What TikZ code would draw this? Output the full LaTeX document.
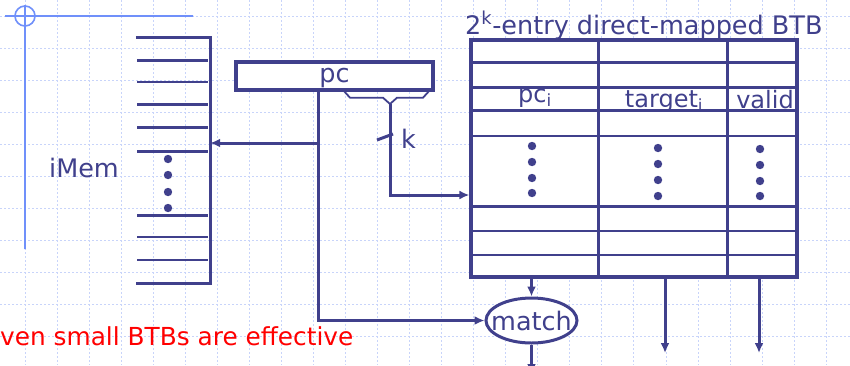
\documentclass[tikz,border=0pt]{standalone}
\usepackage{fontspec}
\setmainfont{DejaVu Sans}
\usetikzlibrary{positioning,arrows.meta,shapes.geometric}
\definecolor{navy}{RGB}{64,64,140}
\definecolor{gridblue}{RGB}{200,212,250}
\definecolor{deco}{RGB}{112,144,250}

\begin{document}
\begin{tikzpicture}[
  x=1pt, y=-1pt,
  lbl/.style={font=\fontsize{25.5}{30}\selectfont, text=navy, inner sep=0pt},
  sublbl/.style={lbl, font=\fontsize{24}{28}\selectfont},
  box/.style={draw=navy, line width=3.2pt, fill=white, inner sep=0pt},
  row/.style={navy, line width=2.6pt},
  wire/.style={navy, line width=3pt},
  arr/.style={wire, -{Latex[length=10pt,width=9pt]}},
  dot/.style={fill=navy},
  gridline/.style={gridblue, line width=1pt, dash pattern=on 2pt off 2pt},
]
  \useasboundingbox (0,0) rectangle (850,365);

  % background
  \foreach \k in {0,...,25} \draw[gridline] (25+32.05*\k,0) -- (25+32.05*\k,365);
  \foreach \k in {0,...,10} \draw[gridline] (0,16+32.05*\k) -- (850,16+32.05*\k);
  \draw[deco, line width=1.6pt] (5,16) -- (193,16) (25,5) -- (25,249) (25,16) circle (10);

  % instruction memory
  \node[minimum width=74pt, minimum height=245pt, inner sep=0pt] (imem) at (173,160.5) {};
  \draw[wire] (imem.north west) -| (imem.south east) -- (imem.south west);
  \foreach \y in {60.5,82,104.5,127.5,151.5,215.5,237,260} \draw[row] (137,\y) -- (208,\y);
  \foreach \y in {159,175,192,208} \fill[dot] (168,\y) circle (4.2);
  \node[lbl, anchor=base west] (imemlbl) at (49,177) {iMem};

  % pc register
  \node[box, minimum width=197pt, minimum height=28pt] (pcreg) at (334.5,76) {};
  \node[lbl, anchor=base] (pclbl) at (334.5,82.5) {pc};
  \coordinate (pcout) at (318,90);
  \coordinate (memin) at (imem.east |- 0,143);
  \draw[navy, line width=1.8pt] (343,90) -- (350,97.7) -- (383,97.7) -- (390,104)
    -- (397,97.7) -- (423,97.7) -- (430,90);
  \coordinate (idx) at (390,104);

  % BTB
  \node[lbl, anchor=base west] (btbtitle) at (465,34) {2\textsuperscript{k}-entry direct-mapped BTB};
  \node[box, minimum width=326pt, minimum height=237pt] (btb) at (634,158.5) {};
  \draw[wire] (598,40) -- (598,277) (727.5,40) -- (727.5,277);
  \foreach \y in {62.7,87.3,110.7,136,206.7,231,255} \draw[row] (471,\y) -- (796,\y);
  \node[sublbl, anchor=base] (pci) at (535,102) {pc\textsubscript{i}};
  \node[sublbl, anchor=base] (tgt) at (664,107) {target\textsubscript{i}};
  \node[sublbl, anchor=base] (valid) at (765,108) {valid};
  \foreach \y in {146,162,178,193} \fill[dot] (532,\y) circle (4.2);
  \foreach \y in {148,164,180,196} \fill[dot] (658,\y) circle (4.2);
  \foreach \y in {149,165,181,196} \fill[dot] (760,\y) circle (4.2);
  \coordinate (btbin) at (btb.west |- 0,195);

  \node[ellipse, draw=navy, line width=3pt, fill=white, minimum width=91pt,
        minimum height=45pt, lbl, inner xsep=-9pt, inner ysep=0pt] (match) at (531.5,320.5) {match};

  % connections
  \draw[arr] (pcout |- memin) -- (memin);
  \draw[arr] (pcout) |- (match.west);
  \draw[arr] (idx) |- (btbin);
  \draw[wire] (377,140) -- (393,134);
  \node[lbl, anchor=base west] (klbl) at (401,148) {k};
  \draw[arr] (match.north |- btb.south) -- (match.north);
  \coordinate (tgtout) at (665,353);
  \coordinate (validout) at (759,353);
  \coordinate (matchout) at (531.5,374);
  \draw[arr] (tgtout |- btb.south) -- (tgtout);
  \draw[arr] (validout |- btb.south) -- (validout);
  \draw[arr] (match.south) -- (matchout);

  \node[lbl, text=red, font=\fontsize{24.8}{29}\selectfont, anchor=base west] (note) at (0,345) {ven small BTBs are effective};
\end{tikzpicture}
\end{document}
